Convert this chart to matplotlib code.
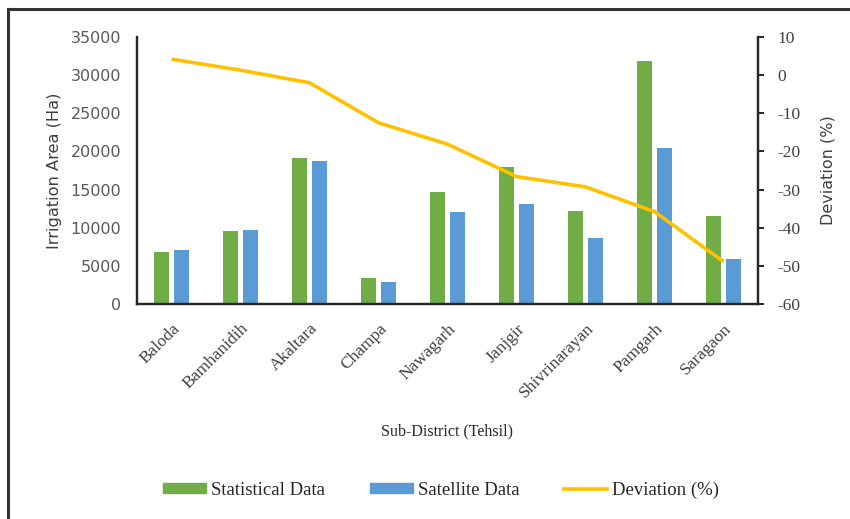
import numpy as np
import matplotlib
matplotlib.use('Agg')
import matplotlib.pyplot as plt
from matplotlib.lines import Line2D

# Área irrigada por tehsil: dados estatísticos x satélite
tehsils = ["Baloda", "Bamhanidih", "Akaltara", "Champa", "Nawagarh",
           "Janjgir", "Shivrinarayan", "Pamgarh", "Saragaon"]
estatistico = [6800, 9600, 19200, 3400, 14700, 18000, 12200, 31900, 11500]
satelite = [7100, 9700, 18700, 2900, 12000, 13100, 8600, 20400, 5900]
desvio = [4.2, 1.3, -2.0, -12.5, -18.1, -26.6, -29.3, -35.8, -48.9]

verde = "#70AD47"
azul = "#5B9BD5"
laranja = "#FFC000"
serif = "Liberation Serif"
plt.rcParams['axes.unicode_minus'] = False

fig = plt.figure(figsize=(8.5, 5.19), dpi=100)
ax = fig.add_axes([0.1612, 0.4143, 0.7306, 0.5144])
ax2 = ax.twinx()

x = np.arange(len(tehsils))
larg = 0.22
ax.bar(x - 0.14, estatistico, larg, color=verde, label="Statistical Data", zorder=2)
ax.bar(x + 0.14, satelite, larg, color=azul, label="Satellite Data", zorder=2)
ax2.plot(x, desvio, color=laranja, lw=2.6, label="Deviation (%)", solid_capstyle='butt')

ax.set_xlim(-0.5, len(tehsils) - 0.5)
ax.set_ylim(0, 35000)
ax.set_yticks(range(0, 35001, 5000))
ax2.set_ylim(-60, 10)
ax2.set_yticks(range(-60, 11, 10))

# eixos e moldura
for a in (ax, ax2):
    a.spines['top'].set_visible(False)
    for s in ('left', 'right', 'bottom'):
        a.spines[s].set_color('#262626')
        a.spines[s].set_linewidth(1.6)
ax.tick_params(axis='y', length=0, labelsize=11.5, labelcolor='#595959', pad=11.5)
ax.tick_params(axis='x', length=0, pad=12)
ax2.tick_params(axis='y', direction='out', length=4, width=1.4, color='#262626',
                labelsize=12.5, labelcolor='#404040', pad=10)
for t in ax2.get_yticklabels():
    t.set_family(serif)

ax.set_xticks(x)
ax.set_xticklabels(tehsils, rotation=45, ha='right', rotation_mode='anchor',
                   fontsize=12.5, family=serif, color='#404040')

ax.set_ylabel("Irrigation Area (Ha)", fontsize=11.7, color='#404040', labelpad=6)
ax2.set_ylabel("Deviation (%)", fontsize=11.5, color='#404040', labelpad=14)
fig.text(0.526, 0.168, "Sub-District (Tehsil)", ha='center', va='center',
         fontsize=11.5, family=serif, color='#262626')

# legenda
handles = [plt.Rectangle((0, 0), 1, 1, color=verde),
           plt.Rectangle((0, 0), 1, 1, color=azul),
           Line2D([], [], color=laranja, lw=2.6)]
fig.legend(handles, ["Statistical Data", "Satellite Data", "Deviation (%)"],
           loc='center', bbox_to_anchor=(0.519, 0.055), ncol=3, frameon=False,
           prop={'family': serif, 'size': 13.5}, handlelength=2.3, handleheight=0.45,
           handletextpad=0.25, columnspacing=2.4, labelcolor='#262626')

fig.add_artist(Line2D([8 / 850, 8 / 850], [0, 1 - 9 / 519], color='#333333', lw=2.2))
fig.add_artist(Line2D([8 / 850, 1], [1 - 9 / 519, 1 - 9 / 519], color='#333333', lw=2.2))

fig.savefig("out.png", dpi=100)
